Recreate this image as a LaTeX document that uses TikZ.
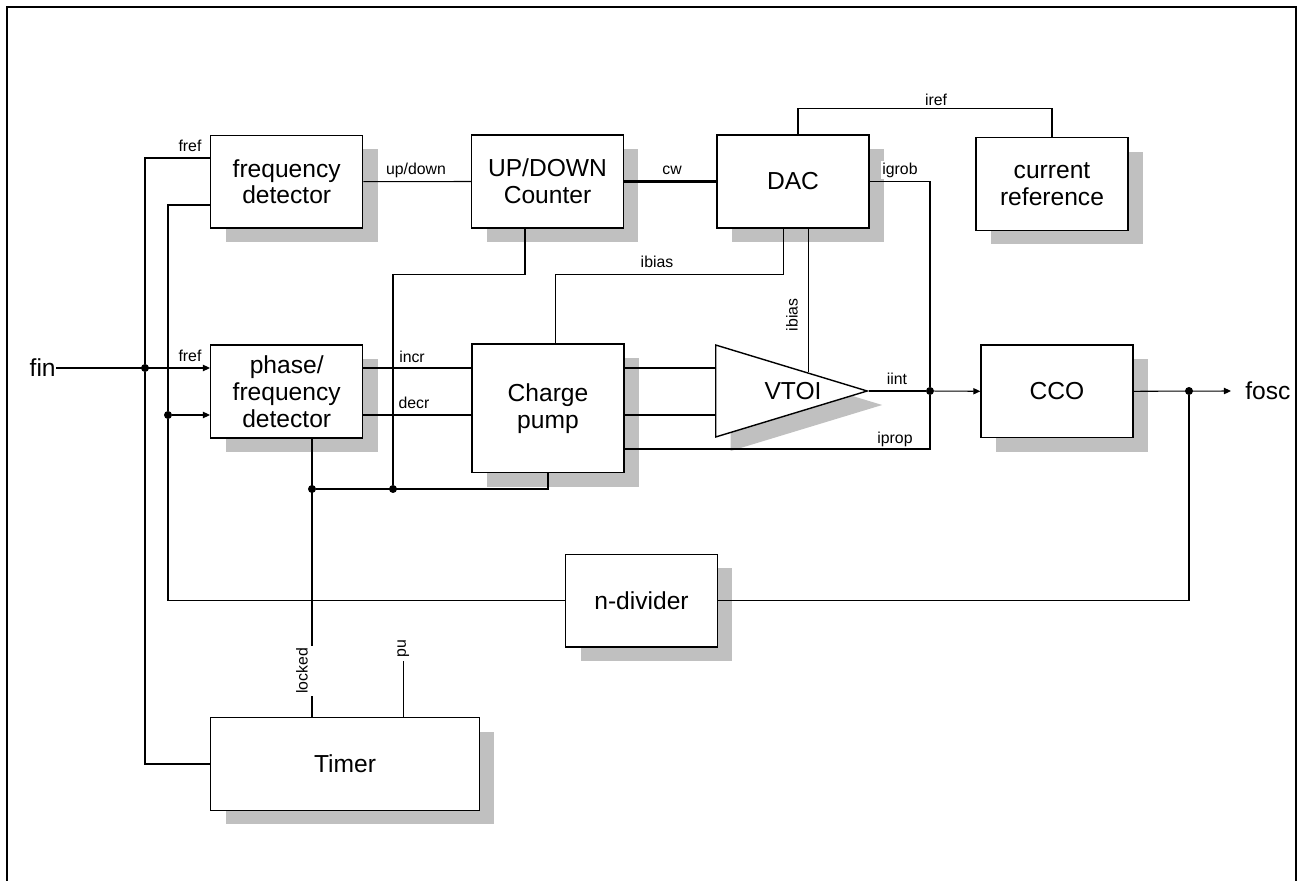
\documentclass[tikz,border=0pt]{standalone}
\usepackage{fontspec}
\setmainfont{Liberation Sans}
\usetikzlibrary{arrows.meta,shadows,shapes.geometric}
\definecolor{shadowgray}{RGB}{192,192,192}
\def\blockfont{\fontsize{14}{15.3}\selectfont}
\def\sigfont{\fontsize{9}{10}\selectfont}
\tikzset{
  block/.style={draw, line width=0.8pt, fill=white, minimum width=3.04cm, minimum height=1.86cm,
    align=center, font=\blockfont, inner sep=0pt,
    drop shadow={shadow xshift=0.3cm, shadow yshift=-0.28cm, fill=shadowgray, opacity=1}},
  sig/.style={font=\sigfont, inner sep=1pt},
  io/.style={font=\blockfont, inner sep=0pt},
  wire/.style={line width=0.6pt},
  bus/.style={line width=1.7pt},
  dot/.style={circle, fill=black, inner sep=0pt, minimum size=0.16cm},
  arr/.style={-{Triangle[length=4pt,width=3.6pt]}}
}

\begin{document}
\begin{tikzpicture}[x=0.02cm, y=-0.02cm]
		%%%%% START %%%%%
		\useasboundingbox (0,0) rectangle (1298,881);
		\draw[line width=1.1pt] (7,881) -- (7,7) -- (1296,7) -- (1296,881);
		
		\node[block] (fd) at (286.7,181.7) {frequency\\detector};
		\node[block] (updown) at (547.5,181.5) {UP/DOWN\\Counter};
		\node[block] (dac) at (793,181.5) {DAC};
		\node[block] (curref) at (1052,184) {current\\reference};
		
		\node[block] (pfd) at (286.7,391.5) {phase/\\frequency\\detector};
		\node[block, minimum height=2.57cm] (cpump) at (548,408.3) {Charge\\pump};
		\node[block, isosceles triangle, isosceles triangle stretches, minimum width=1.84cm, minimum height=3.03cm, anchor=apex] (vtoi) at (869,391) {};
		\node[io] (vtoitxt) at ([xshift=-1.52cm]vtoi.apex) {VTOI};
		\node[block] (cco) at (1057,391.3) {CCO};
		
		\node[block] (ndiv) at (641.5,600.7) {n-divider};
		\node[block, minimum width=5.38cm] (timer) at (345,764) {Timer};
		
		\node[io, anchor=east] (fin) at (56,368) {fin};
		\node[io, anchor=west] (fosc) at (1245,391) {fosc};
		
		\node[dot] (jfin) at (145,368) {};
		\node[dot] (jfb) at (168,415) {};
		\node[dot] (jcco) at (930,391) {};
		\node[dot] (jout) at (1189,391) {};
		\node[dot] (jlk) at (312,489) {};
		\node[dot] (jud) at (393,489) {};
		
		%%%%% WIRES %%%%%
		\draw[wire,arr] (fin.east) -- (pfd.west |- fin.east);
		\draw[wire] (fd.west |- 0,158) -| (jfin) |- (timer.west);
		\draw[wire] (fd.west |- 0,205) -| (jfb) |- (ndiv.west);
		\draw[wire,arr] (jfb) -- (pfd.west |- jfb);
		\draw[wire] (ndiv.east) -| (jout);
		\draw[wire,arr] (cco.east) -- ([xshift=-0.28cm]fosc.west);
		
		\draw[wire] (fd.east) -- (updown.west);
		\draw[bus] (updown.east) -- (dac.west);
		\draw[wire] ([xshift=0.1cm]dac.north) -- ++(0,-26) -| (curref.north);
		\draw[wire] (dac.east) -| (jcco);
		\draw[wire] ([xshift=-0.19cm]dac.south) -- ++(0,46) -| ([xshift=0.15cm]cpump.north);
		\draw[wire] ([xshift=0.31cm]dac.south) -- ([xshift=0.31cm]dac.south |- 0,372);
		\draw[wire] ([xshift=-0.45cm]updown.south) -- ++(0,46) -| (jud);
		
		\draw[wire] (pfd.east |- 0,368) -- (cpump.west |- 0,368);
		\draw[wire] (pfd.east |- 0,415) -- (cpump.west |- 0,415);
		\draw[wire] (cpump.east |- 0,368) -- (vtoi.west |- 0,368);
		\draw[wire] (cpump.east |- 0,415) -- (vtoi.west |- 0,415);
		\draw[wire] (cpump.east |- 0,449) -| (jcco);
		\draw[wire] (vtoi.apex) -- (jcco);
		\draw[wire,arr] (jcco) -- (cco.west);
		
		\draw[wire] (jlk) -| (cpump.south);
		\draw[wire] (pfd.south -| jlk) -- (timer.north -| jlk);
		\draw[wire] (timer.north -| 403.3,0) -- ++(0,-55.5) node[sig, rotate=90, anchor=west, inner sep=2pt] (lpu) {pu};
		
		%%%%% LABELS %%%%%
		\node[sig] (lfref) at (190,146) {fref};
		\node[sig] (lfrefp) at (190,356) {fref};
		\node[sig] (lud) at (416,170) {up/down};
		\node[sig, fill=white, inner xsep=1pt, inner ysep=3.4pt] (lcw) at (672,170) {cw};
		\node[sig] (liref) at (936,100) {iref};
		\node[sig, fill=white] (ligrob) at (900,170) {igrob};
		\node[sig] (libias) at (657,262) {ibias};
		\node[sig, rotate=90] (libiasv) at (792,315) {ibias};
		\node[sig] (lincr) at (412,357) {incr};
		\node[sig] (ldecr) at (414,403) {decr};
		\node[sig] (liint) at (897,379) {iint};
		\node[sig] (liprop) at (895,439) {iprop};
		\node[sig, rotate=90, fill=white, inner ysep=4pt] (llocked) at (302,671) {locked};
		%%%%% END %%%%%
\end{tikzpicture}
\end{document}
